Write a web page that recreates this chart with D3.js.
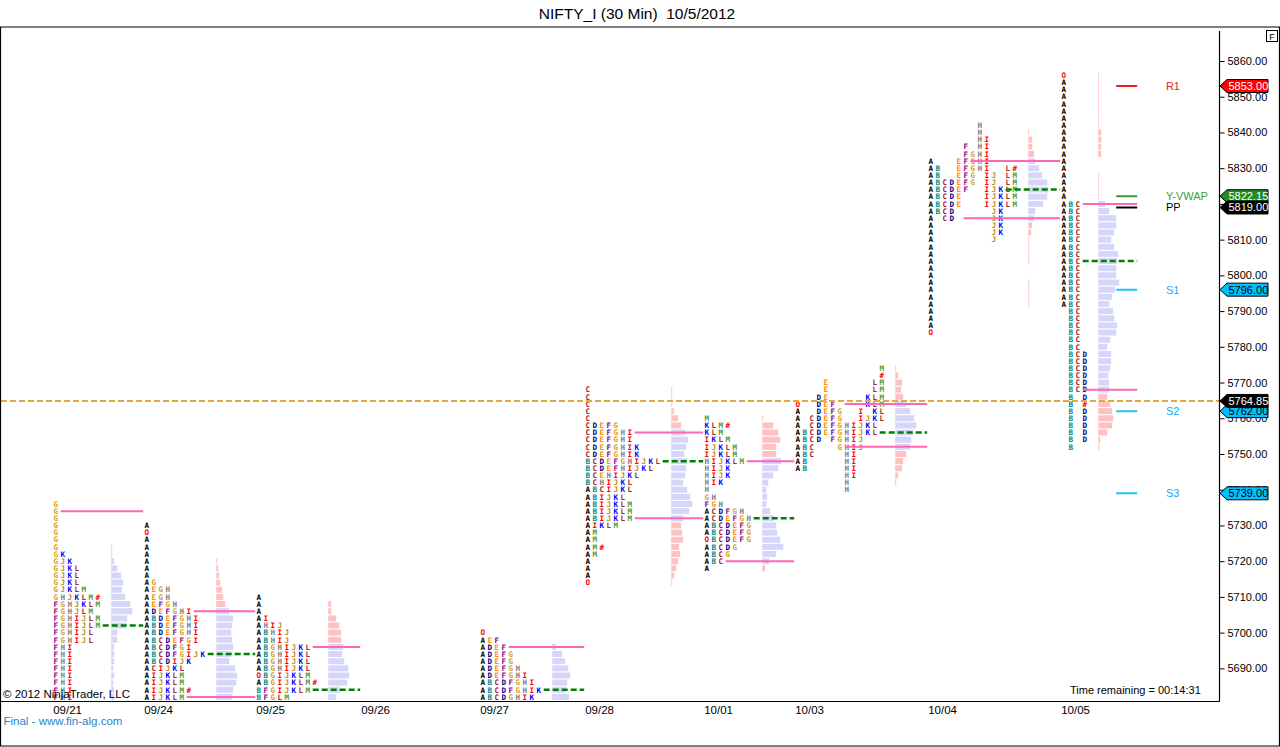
<!DOCTYPE html>
<html lang="en">
<head>
<meta charset="utf-8">
<title>NIFTY_I (30 Min) 10/5/2012</title>
<script src="https://cdn.jsdelivr.net/npm/d3@7"></script>
<style>
  body { margin: 0; background: #fff; }
  svg { display: block; }
  .tpo text { font-family: "DejaVu Sans Mono", monospace; font-weight: bold; font-size: 7.6px; }
  .lbl { font-family: "Liberation Sans", Arial, sans-serif; }
  .axis text { font-family: "Liberation Sans", Arial, sans-serif; font-size: 11px; fill: #000; }
  .axis line { stroke: #000; }
</style>
</head>
<body>
<script>

// ---- sessions (date label, start column of the letter block, price of the first row) ----
var dates     = ["09/21", "09/24", "09/25", "09/26", "09/27", "09/28", "10/01", "10/03", "10/04", "10/05"];
var startCols = [0, 13, 29, 44, 61, 76, 93, 106, 125, 144];
var topPrices = [5736, 5730, 5710, null, 5700, 5768, 5760, 5774, 5842, 5856];

// value area high / point of control / value area low (null = outside the visible range)
var vahPrices = [5734, 5706, 5696, null, 5696, 5756, 5748, 5764, 5832, 5820];
var pocPrices = [5702, 5694, 5684, null, 5684, 5748, 5732, 5756, 5824, 5804];
var valPrices = [null, 5682, null, null, null, 5732, 5720, 5752, 5816, 5768];

// TPO letters, one string per 2-point row, top to bottom
var tpo0921 = ["G","G","G","G","G","G","G","GK","GJK","GJKL","GJKL","GJKL","GJKLM","GHJKLM#",
  "FGHJKLM","FGHJLM","FGHIJLM","FGHIJLM","FGHIJL","FGHIJL","FHI","FHI","FHI","FHI","FHI","FHI","FHI","FHI"];
var tpo0924 = ["A","O","A","A","A","A","A","A","AG","AEGH","AEGH","AEFGH","ADEFGHI","ABDEFGHI","ABDEFGHI",
  "ABDEFGHI","ABCDEFGI","ABCDFGI","ABCDFGIJK","ABCDIJK","ACIJKL","AIJKLM","AIJKLM","AIJKLM#","AIJKLM"];
var tpo0925 = ["A","A","A","AI","AHIJ","ABHIJ","ABHIJ","ABGHIJKL","ABGHIJKL","ABGHIJKL","ABGHIJKL",
  "OBGIJKLM","ABGIJKLM#","BFGIJKLM","BFGLM"];
var tpo0926 = [];
var tpo0927 = ["O","AEF","ADEF","ADEFG","ADEFG","ADEFGH","ADEFGHI","ABCDFGHI","ABCDFGHIK","ABCDGHIK"];
var tpo0928 = ["C","C","C","C","C","CDEFG","CDEFGHI","CDEFGHI","CDEFGHIK","CDEFGHIK","BCDEFGHIJKL",
  "BCDEFHIJKL","BCEHIJKL","BCHIJKL","ABCIJKL","ABIJKL","ABIJKLM","ABIJKLM","ABIJKLM","AIKLM","AM","AM",
  "AM#","AM","A","A","A","O"];
var tpo1001 = ["M","KLM#","KLM","IKLM","IJKLM","IJKLM","HIJKLM","HIJK","HIJK","HIK","H","GH","FGH",
  "ACDFGH","ACDEFGH","ABCDEFG","ABCDEFG","OBCDEFG","ABCDG","ABCG","ABC","A"];
var tpo1003 = ["            M","            #","    E      LM","    E      LM","   DE     KLM","O  DEF    KLM",
  "A  DEFG  I KL","A CDEFG  IJKL","A CDEFGHIJKL","ABCDEFGHIJKL","ABCD FGHIJ","ABC   GHIJ","ABC    HI",
  "AB     HI","AB     HI","       HI","       H","       H"];
var tpo1004 = ["       H","       H","       HI","     F HI","     FGHI","A   EFGHI","AB  EFGHI  L#",
  "AB  EFG IJ LM","ABCDEFG IJ LM","ABCDEF  IJKLM","ABCDE   IJKLM","ABCDE   IJKLM","ABCD     JK",
  "A CD     JK","A        JK","A        JK","A        J","A","A","A","A","A","A","A","A","A","A","A","A","O"];
var tpo1005 = ["O","A","A","A","A","A","A","A","A","A","A","A","A","A","A","A","A","A",
  "ABC","ABC","ABC","ABC","ABC","ABC","ABC","ABC","ABC","ABC","ABC","ABC","ABC","ABC","ABC",
  " BC"," BC"," BC"," BC"," BC"," BC"," BCD"," BCD"," BCD"," BCD"," BCD"," BCD",
  " B D"," B #"," B D"," B D"," B D"," B D"," B D"," B"];

// volume histogram, one value per row (same order as the letters)
var vol0921 = [0,0,0,0,0,0,1,1,3,6,10,12,11,14,19,21,16,15,6,6,3,3,3,2,3,2,3,3];
var vol0924 = [0,0,0,0,0,1,2,3,4,6,7,9,13,17,16,15,16,17,15,13,19,21,20,17,16];
var vol0925 = [0,3,3,8,11,13,13,15,14,16,20,21,19,12,8];
var vol0926 = [];
var vol0927 = [0,0,4,10,13,16,18,15,14,17];
var vol0928 = [1,1,1,3,7,10,14,17,15,13,16,15,14,12,16,19,21,18,12,10,11,12,8,9,7,5,3,1];
var vol1001 = [1,11,16,18,14,14,19,16,11,6,4,5,4,8,12,14,15,18,21,14,7,3];
var vol1003 = [1,3,7,6,8,11,15,19,21,18,16,15,11,8,7,3,1,0];
var vol1004 = [0,1,4,4,6,7,11,14,19,20,19,15,7,6,4,3,1,1,1,1,0,0,1,1,1,1,0,0,0,0];
var vol1005 = [1,1,1,1,1,1,1,1,3,3,3,3,0,0,1,1,1,1,7,11,18,18,16,13,16,20,19,18,18,21,17,14,11,
  15,16,19,18,12,9,13,13,12,10,11,11,9,12,14,15,14,9,2,1];

var profiles = [tpo0921, tpo0924, tpo0925, tpo0926, tpo0927, tpo0928, tpo1001, tpo1003, tpo1004, tpo1005];
var volumes  = [vol0921, vol0924, vol0925, vol0926, vol0927, vol0928, vol1001, vol1003, vol1004, vol1005];

// pivot levels and last price
var pivotNames  = ["R1", "Y-VWAP", "PP", "S1", "S2", "S3"];
var pivotValues = [5853.00, 5822.15, 5819.00, 5796.00, 5762.00, 5739.00];
var lastPrice = 5764.85;

var yTicks = [5690, 5700, 5710, 5720, 5730, 5740, 5750, 5760, 5770, 5780, 5790, 5800, 5810, 5820, 5830, 5840, 5850, 5860];

// ---- styles ----
var letterColor = {A:"#000000", B:"#008b8b", C:"#a81818", D:"#00008b", E:"#ff8c00", F:"#8b008b",
  G:"#d4a020", H:"#808080", I:"#ff0000", J:"#b8900b", K:"#0000ff", L:"#a52a2a", M:"#4f9a2f",
  O:"#ff0000", "#":"#ff0000"};
var pivotLine = {"R1":"#ee1c1c", "Y-VWAP":"#3a9a3a", "PP":"#000000", "S1":"#1ec0ff", "S2":"#1ec0ff", "S3":"#1ec0ff"};
var pivotText = {"R1":"#e82020", "Y-VWAP":"#3a9e3a", "PP":"#000000", "S1":"#22aaee", "S2":"#22aaee", "S3":"#22aaee"};
var flagFill  = {"R1":"#ff0000", "Y-VWAP":"#228b22", "PP":"#000000", "S1":"#00bfff", "S2":"#00bfff", "S3":"#00bfff"};
var flagInk   = {"R1":"#ffffff", "Y-VWAP":"#ffffff", "PP":"#ffffff", "S1":"#000000", "S2":"#000000", "S3":"#000000"};

var W = 1280, H = 747;
var plot = {left: 1, right: 1219.5, top: 28, bottom: 701.5};

var y = d3.scaleLinear().domain([5750, 5860]).range([454, 61]);
var xCol = d3.scaleLinear().domain([0, 144]).range([55.7, 1063.7]);
var xVol = d3.scaleLinear().domain([0, 21]).range([0, 21]);
var colW = xCol(1) - xCol(0);

var sessions = dates.map(function(d, i) {
  return {date: d, col: startCols[i], top: topPrices[i], rows: profiles[i], vol: volumes[i],
    vah: vahPrices[i], poc: pocPrices[i], val: valPrices[i],
    endCol: i < dates.length - 1 ? startCols[i + 1] : startCols[i] + 11};
});

var svg = d3.select("body").append("svg").attr("width", W).attr("height", H);

svg.append("defs").append("clipPath").attr("id", "plotClip").append("rect")
  .attr("x", plot.left).attr("y", plot.top)
  .attr("width", plot.right - plot.left).attr("height", plot.bottom - plot.top);

var plotG = svg.append("g").attr("clip-path", "url(#plotClip)");

// histograms and letters
sessions.forEach(function(s) {
  if (!s.rows.length) return;
  var gs = plotG.append("g");
  var maxLen = d3.max(s.rows, function(r) { return r.length; });
  var histX = xCol(s.col + maxLen + 1) - 0.5;
  var hi = s.vah == null ? Infinity : s.vah,
      lo = s.val == null ? -Infinity : s.val;

  gs.selectAll("rect").data(s.vol).enter().append("rect")
    .attr("x", histX)
    .attr("y", function(v, i) { return y(s.top - 2 * i) - 3; })
    .attr("width", function(v) { return xVol(v); })
    .attr("height", 6)
    .attr("fill", function(v, i) {
      var p = s.top - 2 * i;
      return (p <= hi && p >= lo) ? "#d6d6fa" : "#ffc2c2";
    });

  var cells = [];
  s.rows.forEach(function(r, i) {
    r.split("").forEach(function(ch, j) {
      if (ch !== " ") cells.push({ch: ch, j: j, p: s.top - 2 * i});
    });
  });
  gs.append("g").attr("class", "tpo").selectAll("text").data(cells).enter().append("text")
    .attr("x", function(d) { return xCol(s.col + d.j); })
    .attr("y", function(d) { return y(d.p); })
    .attr("dy", "0.36em")
    .attr("text-anchor", "middle")
    .attr("fill", function(d) { return letterColor[d.ch]; })
    .text(function(d) { return d.ch; });
});

// value area and POC lines
function levelLine(s, price, color, dash) {
  if (price == null) return;
  var row = s.rows[Math.round((s.top - price) / 2)] || "";
  var count = row.replace(/ /g, "").length;
  plotG.append("line")
    .attr("x1", xCol(s.col + count) - 2)
    .attr("x2", xCol(s.endCol) - colW / 2)
    .attr("y1", y(price)).attr("y2", y(price))
    .attr("stroke", color)
    .attr("stroke-width", dash ? 2.5 : 2)
    .attr("stroke-dasharray", dash ? "6,3" : null);
}
sessions.forEach(function(s) {
  if (!s.rows.length) return;
  levelLine(s, s.vah, "#ff66b3", false);
  levelLine(s, s.val, "#ff66b3", false);
  levelLine(s, s.poc, "#008000", true);
});

// last price line
plotG.append("line")
  .attr("x1", plot.left).attr("x2", plot.right)
  .attr("y1", y(lastPrice)).attr("y2", y(lastPrice))
  .attr("stroke", "#e2aa3e").attr("stroke-width", 2).attr("stroke-dasharray", "6,3");

// pivot lines and names
var lastCol = startCols[startCols.length - 1];
pivotNames.forEach(function(n, i) {
  var py = y(pivotValues[i]);
  plotG.append("line")
    .attr("x1", xCol(lastCol + 7.5)).attr("x2", xCol(lastCol + 10.5))
    .attr("y1", py).attr("y2", py)
    .attr("stroke", pivotLine[n]).attr("stroke-width", 2);
  plotG.append("text").attr("class", "lbl")
    .attr("x", xCol(lastCol + 14.6)).attr("y", py + 4)
    .attr("font-size", "11px").attr("fill", pivotText[n])
    .text(n);
});

// frame
svg.append("text").attr("class", "lbl")
  .attr("x", 637).attr("y", 18.5).attr("text-anchor", "middle")
  .attr("font-size", "15.5px").attr("fill", "#000")
  .style("white-space", "pre")
  .text("NIFTY_I (30 Min)  10/5/2012");

var frame = svg.append("g").attr("stroke", "#000").attr("stroke-width", 1.2).attr("fill", "none");
frame.append("line").attr("x1", 0).attr("x2", W).attr("y1", 27).attr("y2", 27);
frame.append("line").attr("x1", 0.5).attr("x2", 0.5).attr("y1", 27).attr("y2", 746);
frame.append("line").attr("x1", 1279.5).attr("x2", 1279.5).attr("y1", 27).attr("y2", 746);
frame.append("line").attr("x1", 0).attr("x2", W).attr("y1", 746).attr("y2", 746);
frame.append("line").attr("x1", 0).attr("x2", plot.right).attr("y1", plot.bottom).attr("y2", plot.bottom);
frame.append("line").attr("x1", plot.right).attr("x2", plot.right).attr("y1", 31).attr("y2", plot.bottom);

// F box
svg.append("rect").attr("x", 1266.5).attr("y", 30.5).attr("width", 11).attr("height", 11)
  .attr("fill", "#fff").attr("stroke", "#000");
svg.append("text").attr("class", "lbl").attr("x", 1272).attr("y", 39.5).attr("text-anchor", "middle")
  .attr("font-size", "9px").text("F");

// y axis
var yAxis = d3.axisRight(y).tickValues(yTicks).tickFormat(d3.format(".2f")).tickSize(5).tickPadding(3);
var yG = svg.append("g").attr("class", "axis").attr("transform", "translate(" + plot.right + ",0)").call(yAxis);
yG.select(".domain").remove();

// x axis (date labels)
var xAxis = d3.axisBottom(xCol).tickValues(startCols)
  .tickFormat(function(d, i) { return dates[i]; }).tickSize(0).tickPadding(4);
var xG = svg.append("g").attr("class", "axis").attr("transform", "translate(0," + plot.bottom + ")").call(xAxis);
xG.select(".domain").remove();
xG.selectAll("text").attr("text-anchor", "start").attr("x", -3).style("font-size", "11.5px");

// price flags on the axis
function flag(value, fill, ink) {
  var fy = y(value), x0 = plot.right + 0.5, x1 = 1268;
  svg.append("path")
    .attr("d", "M" + x0 + "," + fy + "L" + (x0 + 7) + "," + (fy - 6.5) + "L" + x1 + "," + (fy - 6.5) +
      "L" + x1 + "," + (fy + 6.5) + "L" + (x0 + 7) + "," + (fy + 6.5) + "Z")
    .attr("fill", fill).attr("stroke", "#000").attr("stroke-width", 1);
  svg.append("text").attr("class", "lbl")
    .attr("x", x0 + 8.5).attr("y", fy + 4)
    .attr("font-size", "11px").attr("fill", ink)
    .text(d3.format(".2f")(value));
}
pivotNames.forEach(function(n, i) { flag(pivotValues[i], flagFill[n], flagInk[n]); });
flag(lastPrice, "#000000", "#ffffff");

// footer texts
svg.append("text").attr("class", "lbl").attr("x", 3).attr("y", 698)
  .attr("font-size", "11.5px").attr("fill", "#000").text("\u00a9 2012 NinjaTrader, LLC");
svg.append("text").attr("class", "lbl").attr("x", 1070).attr("y", 694)
  .attr("font-size", "11px").attr("fill", "#000").text("Time remaining = 00:14:31");
svg.append("text").attr("class", "lbl").attr("x", 3.5).attr("y", 725)
  .attr("font-size", "11.5px").attr("fill", "#1e86c8").text("Final - www.fin-alg.com");

</script>
</body>
</html>
